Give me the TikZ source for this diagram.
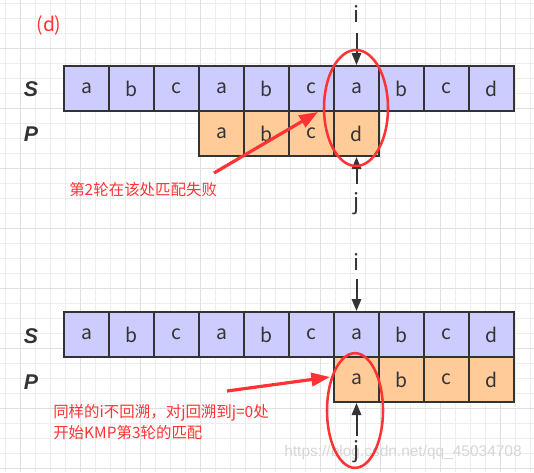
\documentclass[tikz,border=0pt]{standalone}
\usepackage{fontspec}
\setmainfont{Noto Sans CJK SC}
\newfontfamily\labfont{Liberation Sans}
\newfontfamily\wmfont{Liberation Sans}
\usetikzlibrary{arrows.meta,shapes.geometric}
\definecolor{sfill}{HTML}{CCCCFF}
\definecolor{pfill}{HTML}{FFCC99}
\definecolor{edge}{HTML}{333333}
\definecolor{redc}{HTML}{FF3333}
\definecolor{gmin}{HTML}{EDEDED}
\definecolor{gmaj}{HTML}{DFDFDF}
\definecolor{wm}{HTML}{D6D6D6}
\tikzset{
  cellbox/.style={draw=edge,line width=1.5pt,minimum width=33.75pt,minimum height=33.75pt,inner sep=0pt,text=edge,font=\fontsize{14.5pt}{16pt}\selectfont},
  scell/.style={cellbox,fill=sfill},
  pcell/.style={cellbox,fill=pfill},
  rowlab/.style={font=\labfont\bfseries\itshape\fontsize{16pt}{18pt}\selectfont,text=edge,inner sep=0pt},
  ptr/.style={font=\fontsize{16.5pt}{18pt}\selectfont,text=edge,inner sep=0pt},
  ptrarrow/.style={draw=edge,line width=1.5pt,-{Triangle[length=9pt,width=7pt]}},
  redarrow/.style={draw=redc,line width=2.4pt,-{Triangle[length=14pt,width=10pt]}},
  ring/.style={ellipse,draw=redc,line width=1.9pt,inner sep=0pt},
  note/.style={text=redc,font=\fontsize{11.6pt}{15.75pt}\selectfont,inner sep=0pt,align=left},
}
\begin{document}
\begin{tikzpicture}[x=0.75pt,y=-0.75pt]
\useasboundingbox (0,0) rectangle (534,472);
% grid
\foreach \k in {0,...,35} {\draw[gmin,line width=0.75pt] ({5.7+15*\k},0) -- ({5.7+15*\k},472);}
\foreach \k in {0,...,31} {\draw[gmin,line width=0.75pt] (0,{3.3+15*\k}) -- (534,{3.3+15*\k});}
\foreach \k in {0,...,8} {\draw[gmaj,line width=0.75pt] ({20.7+60*\k},0) -- ({20.7+60*\k},472);}
\foreach \k in {0,...,7} {\draw[gmaj,line width=0.75pt] (0,{48.3+60*\k}) -- (534,{48.3+60*\k});}
% watermark
\node[text=wm,font=\wmfont\fontsize{11.6pt}{13pt}\selectfont,inner sep=0pt] (wmk) at (403,452) {https://blog.csdn.net/qq\_45034708};
% title
\node[text=redc,font=\fontsize{14.5pt}{16pt}\selectfont,inner sep=0pt] (title) at (49,25) {(d)};
% top round
\node[rowlab] (S1) at (31,89) {S};
\node[rowlab] (P1) at (31,134) {P};
\foreach \c [count=\k from 0] in {a,b,c,a,b,c,a,b,c,d} {
  \node[scell] (ta\k) at ({86.5+45*\k},88.5) {\c};
}
\foreach \c [count=\k from 0] in {a,b,c,d} {
  \node[pcell] (tb\k) at ({221.5+45*\k},133.5) {\c};
}
\node[ptr] (ti) at (356.5,14) {i};
\coordinate (tis) at (356.5,33);
\draw[ptrarrow] (tis) -- (ta6.north);
\node[ptr] (tj) at (356.5,204) {j};
\coordinate (tjn) at (356.5,184);
\draw[ptrarrow] (tjn) -- (tb3.south);
\node[ring,minimum width=48pt,minimum height=87pt] (e1) at (356,108) {};
\coordinate (r1s) at (214,173);
\coordinate (r1e) at (318,112);
\draw[redarrow] (r1s) -- (r1e);
\node[note,anchor=west] (n1) at (69,190) {第2轮在该处匹配失败};
% bottom round
\node[rowlab] (S2) at (31,336) {S};
\node[rowlab] (P2) at (31,382) {P};
\foreach \c [count=\k from 0] in {a,b,c,a,b,c,a,b,c,d} {
  \node[scell] (ba\k) at ({86.5+45*\k},334.5) {\c};
}
\foreach \c [count=\k from 0] in {a,b,c,d} {
  \node[pcell] (bb\k) at ({356.5+45*\k},379.5) {\c};
}
\node[ptr] (bi) at (356.5,262) {i};
\coordinate (bis) at (356.5,279);
\draw[ptrarrow] (bis) -- (ba6.north);
\node[ptr] (bj) at (356.5,452) {j};
\coordinate (bjn) at (356.5,436);
\draw[ptrarrow] (bjn) -- (bb0.south);
\node[ring,minimum width=42pt,minimum height=86pt] (e2) at (355,410.5) {};
\coordinate (r2s) at (227,391);
\coordinate (r2e) at (330,377);
\draw[redarrow] (r2s) -- (r2e);
\node[note,anchor=north west] (n2) at (53,404) {同样的i不回溯，对j回溯到j=0处\\开始KMP第3轮的匹配};
\end{tikzpicture}
\end{document}
